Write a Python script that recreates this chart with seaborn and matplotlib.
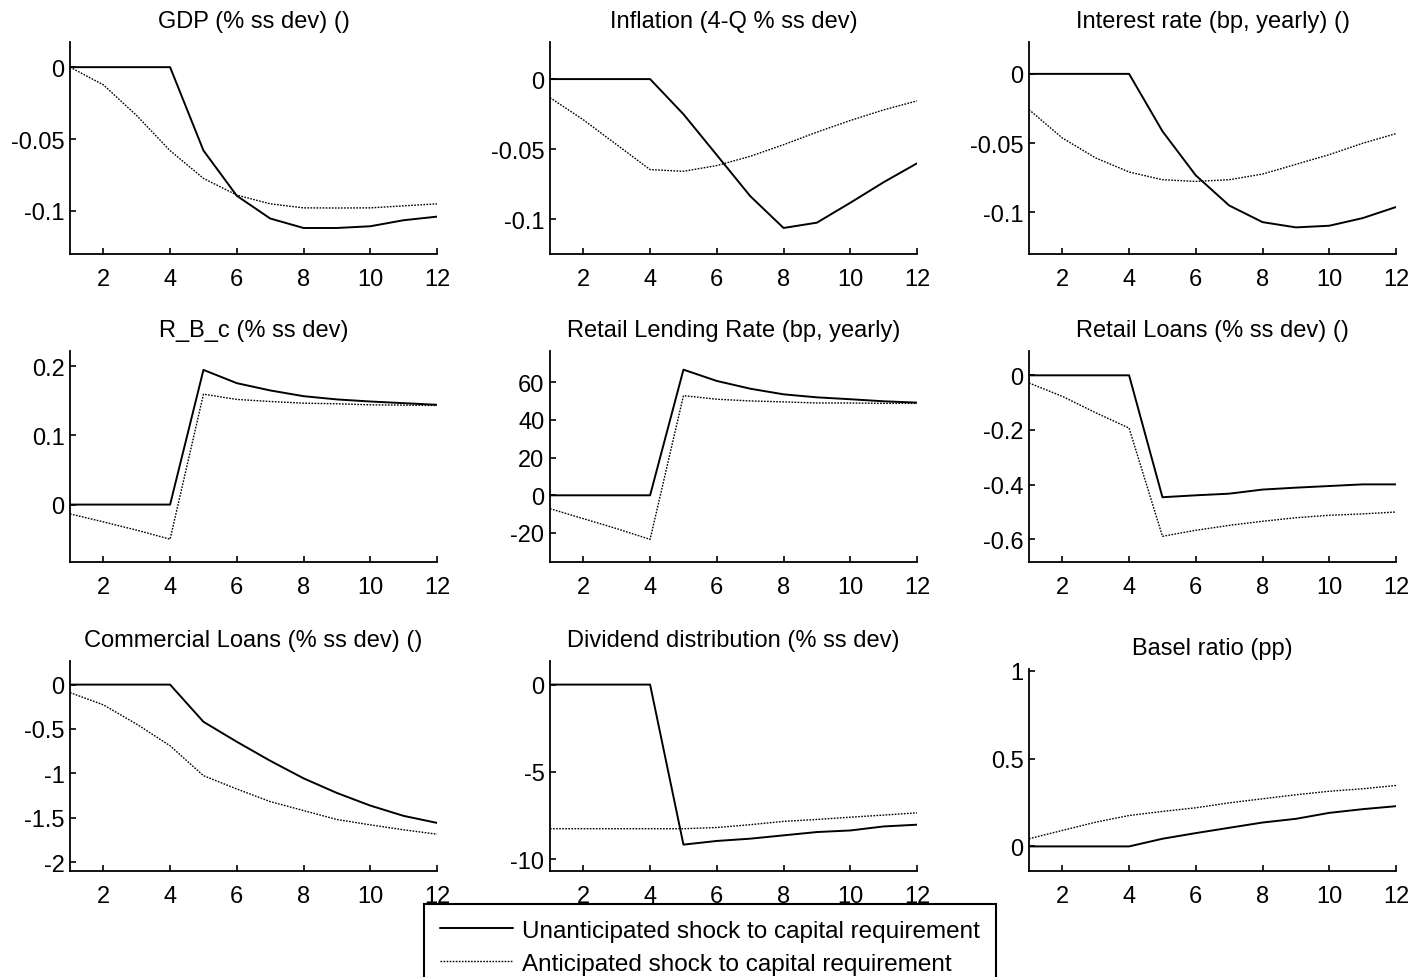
import numpy as np
import pandas as pd
import matplotlib
matplotlib.use("Agg")
import matplotlib.pyplot as plt
import seaborn as sns
from matplotlib.ticker import FuncFormatter

periods = list(range(1, 13))

titles = [
    "GDP (% ss dev) ()",
    "Inflation (4-Q % ss dev)",
    "Interest rate (bp, yearly) ()",
    "R_B_c (% ss dev)",
    "Retail Lending Rate (bp, yearly)",
    "Retail Loans (% ss dev) ()",
    "Commercial Loans (% ss dev) ()",
    "Dividend distribution (% ss dev)",
    "Basel ratio (pp)",
]

gdp_unant = [0, 0, 0, 0, -0.058, -0.0895, -0.1053, -0.1119, -0.1119, -0.1107, -0.1065, -0.104]
gdp_ant = [0, -0.0123, -0.0337, -0.0581, -0.0774, -0.089, -0.0951, -0.0979, -0.098, -0.0979, -0.0965, -0.0951]

infl_unant = [0, 0, 0, 0, -0.0251, -0.0543, -0.0836, -0.1064, -0.1026, -0.0884, -0.0737, -0.0602]
infl_ant = [-0.0133, -0.0291, -0.0469, -0.0647, -0.0659, -0.0618, -0.0552, -0.0469, -0.0379, -0.0296, -0.022, -0.0156]

rate_unant = [0, 0, 0, 0, -0.0414, -0.0733, -0.095, -0.107, -0.1108, -0.1096, -0.1041, -0.0961]
rate_ant = [-0.0258, -0.0463, -0.0607, -0.0708, -0.0764, -0.0776, -0.0764, -0.0723, -0.0653, -0.0583, -0.0501, -0.0431]

rbc_unant = [0, 0, 0, 0, 0.1947, 0.1755, 0.165, 0.1567, 0.152, 0.149, 0.1466, 0.1442]
rbc_ant = [-0.0135, -0.025, -0.037, -0.05, 0.1596, 0.152, 0.149, 0.1466, 0.1457, 0.1442, 0.1437, 0.1433]

rlr_unant = [0, 0, 0, 0, 66.7, 60.7, 56.6, 53.6, 52.0, 51.0, 49.9, 49.2]
rlr_ant = [-7.1, -12.4, -17.7, -23.4, 52.9, 51.0, 50.1, 49.6, 49.0, 49.0, 48.8, 48.8]

rloans_unant = [0, 0, 0, 0, -0.446, -0.439, -0.433, -0.418, -0.411, -0.405, -0.399, -0.399]
rloans_ant = [-0.028, -0.077, -0.137, -0.193, -0.589, -0.567, -0.549, -0.534, -0.521, -0.512, -0.507, -0.5]

cloans_unant = [0, 0, 0, 0, -0.419, -0.644, -0.858, -1.056, -1.221, -1.363, -1.479, -1.558]
cloans_ant = [-0.09, -0.228, -0.446, -0.689, -1.026, -1.176, -1.318, -1.419, -1.52, -1.58, -1.636, -1.685]

div_unant = [0, 0, 0, 0, -9.16, -8.95, -8.82, -8.63, -8.44, -8.35, -8.12, -8.02]
div_ant = [-8.25, -8.25, -8.25, -8.25, -8.25, -8.18, -8.02, -7.83, -7.72, -7.59, -7.47, -7.34]

basel_unant = [0, 0, 0, 0, 0.0436, 0.0758, 0.106, 0.136, 0.157, 0.191, 0.212, 0.229]
basel_ant = [0.0436, 0.091, 0.138, 0.176, 0.199, 0.22, 0.248, 0.271, 0.294, 0.314, 0.328, 0.347]

unant = [gdp_unant, infl_unant, rate_unant, rbc_unant, rlr_unant,
         rloans_unant, cloans_unant, div_unant, basel_unant]
ant = [gdp_ant, infl_ant, rate_ant, rbc_ant, rlr_ant,
       rloans_ant, cloans_ant, div_ant, basel_ant]

yticks = [
    [-0.1, -0.05, 0], [-0.1, -0.05, 0], [-0.1, -0.05, 0],
    [0, 0.1, 0.2], [-20, 0, 20, 40, 60], [-0.6, -0.4, -0.2, 0],
    [-2, -1.5, -1, -0.5, 0], [-10, -5, 0], [0, 0.5, 1],
]
ylims = [
    (-0.130, 0.0175), (-0.125, 0.0265), (-0.130, 0.023),
    (-0.083, 0.222), (-35.4, 76.6), (-0.683, 0.089),
    (-2.10, 0.266), (-10.67, 1.35), (-0.14, 1.01),
]
xticks = [2, 4, 6, 8, 10, 12]

label_unant = "Unanticipated shock to capital requirement"
label_ant = "Anticipated shock to capital requirement"

sns.set_theme(style="ticks")
plt.rcParams['font.family'] = ['Liberation Sans', 'DejaVu Sans']
plt.rcParams['font.size'] = 17
plt.rcParams['text.color'] = 'black'
plt.rcParams['axes.labelcolor'] = 'black'
plt.rcParams['xtick.color'] = 'black'
plt.rcParams['ytick.color'] = 'black'

W, H = 1414, 978
fig = plt.figure(figsize=(W / 100, H / 100), dpi=100)

col_left = [70, 550, 1029]
col_w = 367
row_tops = [43, 352, 662]
row_bottoms = [255, 563, 872]

for i in range(9):
    r, c = divmod(i, 3)
    top = row_tops[r]
    if i == 8:
        top = 670
    bot = row_bottoms[r]
    ax = fig.add_axes([col_left[c] / W, 1 - bot / H, col_w / W, (bot - top) / H])
    sns.lineplot(x=periods, y=unant[i], ax=ax, color="black", linewidth=1.4,
                 legend=False)
    sns.lineplot(x=periods, y=ant[i], ax=ax, color="black", linewidth=1.0,
                 linestyle=(0, (1.2, 1.0)), legend=False)
    ax.set_xlim(1, 12)
    ax.set_ylim(*ylims[i])
    ax.set_xticks(xticks)
    ax.set_yticks(yticks[i])
    ax.yaxis.set_major_formatter(FuncFormatter(lambda v, p: "%g" % v))
    ax.tick_params(direction="in", length=4, width=1.2, labelsize=17, colors="black")
    ax.tick_params(axis="x", pad=10)
    ax.tick_params(axis="y", pad=4)
    for s in ["top", "right"]:
        ax.spines[s].set_visible(False)
    for s in ["left", "bottom"]:
        ax.spines[s].set_linewidth(1.3)
        ax.spines[s].set_color("black")
    ax.set_title(titles[i], fontsize=17, pad=11, color="black")
    ax.set_xlabel("")
    ax.set_ylabel("")
    ax.set_facecolor("white")

handles = [
    plt.Line2D([], [], color="black", linewidth=1.4),
    plt.Line2D([], [], color="black", linewidth=1.0, linestyle=(0, (1.2, 1.0))),
]
leg = fig.legend(handles, [label_unant, label_ant], loc="upper left",
                 bbox_to_anchor=(424 / W, 1 - 905 / H), borderaxespad=0,
                 fontsize=17.5, handlelength=3.0, handletextpad=0.4,
                 labelspacing=0.45, fancybox=False, framealpha=1,
                 edgecolor="black", borderpad=0.65, labelcolor="black")
leg.get_frame().set_linewidth(1.5)

fig.savefig("out.png", dpi=100, facecolor="white")
